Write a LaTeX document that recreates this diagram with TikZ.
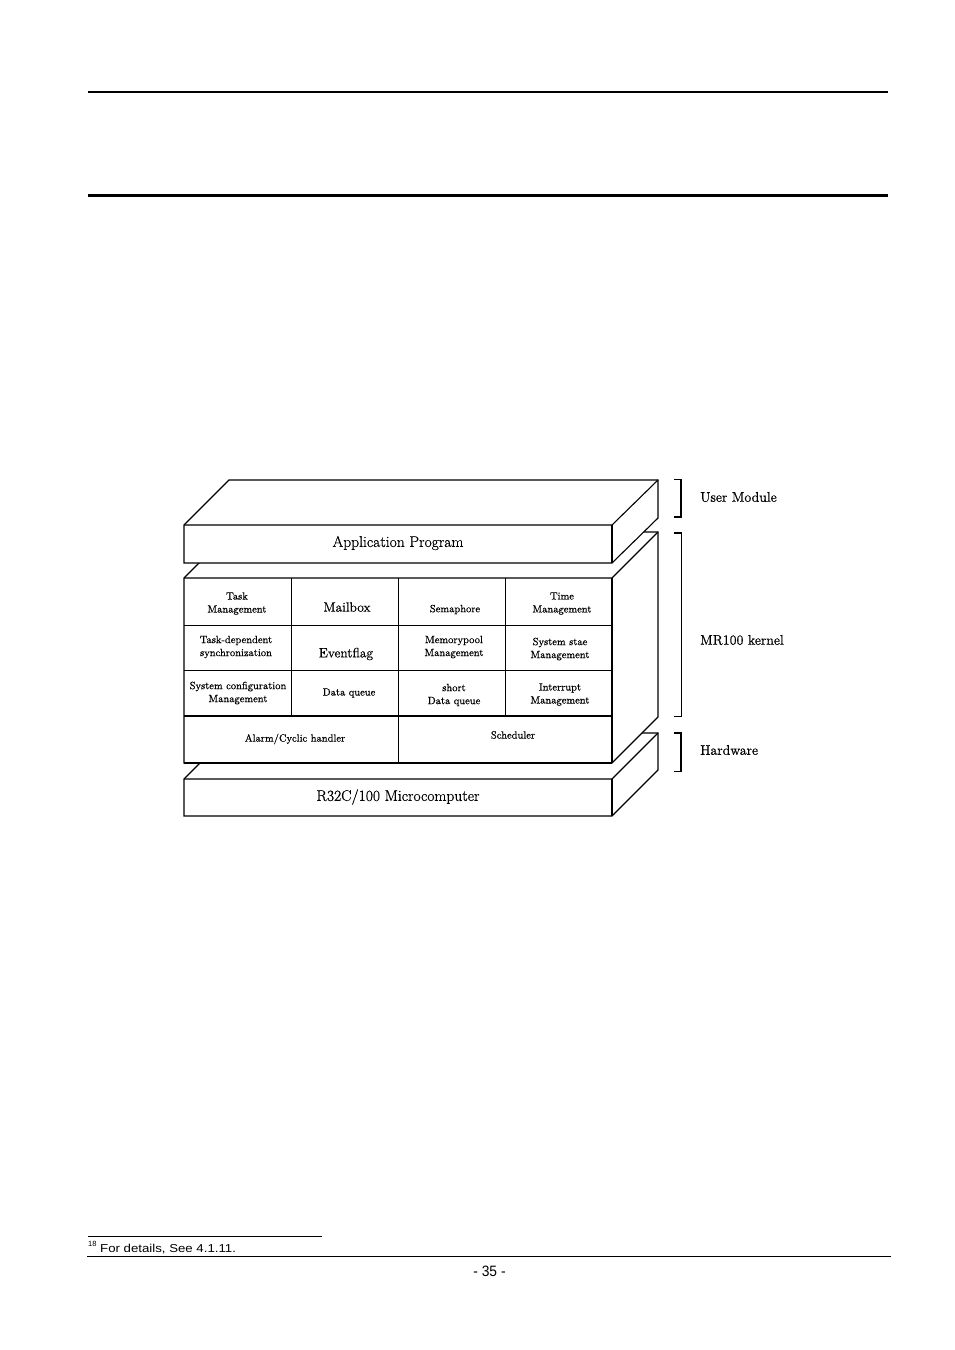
\documentclass[tikz,border=0pt]{standalone}
\usepackage{fontspec}
\setmainfont{Latin Modern Roman}[FakeBold=0.6]
\newfontfamily\arialish{Liberation Sans}
\begin{document}
\begin{tikzpicture}[x=1pt,y=-1pt,
  face/.style={draw=black, fill=white, line width=1.1pt, line join=miter},
  grid/.style={draw=black, line width=0.9pt},
  cell/.style={inner sep=0pt, align=center, font=\fontsize{10.5}{13}\selectfont},
  bigcell/.style={inner sep=0pt, font=\fontsize{13.5}{16}\selectfont},
  title/.style={inner sep=0pt, font=\fontsize{15.5}{18}\selectfont},
  side/.style={inner sep=0pt, anchor=west, font=\fontsize{14}{17}\selectfont},
  brk/.style={draw=black, line width=1.1pt},
  rule/.style={draw=black}]
\useasboundingbox[fill=white] (0,0) rectangle (954,1350);

% page rules
\draw[rule, line width=2pt] (88,92) -- (888,92);
\draw[rule, line width=3pt] (88,195) -- (888,195);
\draw[rule, line width=0.8pt] (88,1236.3) -- (321.5,1236.3);
\draw[rule, line width=1.3pt] (87,1256.3) -- (890.5,1256.3);

% Hardware block
\draw[face] (184,779) -- (230,733) -- (658,733) -- (658,770) -- (612,816) -- (184,816) -- cycle;
\draw[face, fill=none] (184,779) -- (612,779) -- (658,733);
\draw[face, fill=none] (612,779) -- (612,816);
\node[title] (hw) at (398,797) {R32C/100 Microcomputer};

% Kernel block
\draw[face] (184,578) -- (230,532) -- (658,532) -- (658,717) -- (612,763) -- (184,763) -- cycle;
\draw[face, fill=none] (184,578) -- (612,578) -- (658,532);
\draw[face, fill=none] (612,578) -- (612,763);
% grid
\draw[grid] (291,578) -- (291,716);
\draw[grid] (398,578) -- (398,763);
\draw[grid] (505,578) -- (505,716);
\draw[grid] (184,625) -- (612,625);
\draw[grid] (184,670) -- (612,670);
\draw[draw=black, line width=1.8pt] (184,716) -- (612,716);
\draw[draw=black, line width=1.6pt] (184,763) -- (612,763);

\node[cell] (c11) at (237,603.5) {Task\\Management};
\node[bigcell] (c12) at (347,607) {Mailbox};
\node[cell] (c13) at (455,609.5) {Semaphore};
\node[cell] (c14) at (562,603.5) {Time\\Management};
\node[cell] (c21) at (236,647) {Task-dependent\\synchronization};
\node[bigcell] (c22) at (346,654) {Eventflag};
\node[cell] (c23) at (454,647) {Memorypool\\Management};
\node[cell] (c24) at (560,649) {System stae\\Management};
\node[cell] (c31) at (238,693) {System configuration\\Management};
\node[cell] (c32) at (349,693) {Data queue};
\node[cell] (c33) at (454,695) {short\\Data queue};
\node[cell] (c34) at (560,694.5) {Interrupt\\Management};
\node[cell] (c41) at (295,739) {Alarm/Cyclic handler};
\node[cell] (c42) at (513,735) {Scheduler};

% Application block
\draw[face] (184,525) -- (229,480) -- (658,480) -- (658,518) -- (612,563) -- (184,563) -- cycle;
\draw[face, fill=none] (184,525) -- (612,525) -- (658,480);
\draw[face, fill=none] (612,525) -- (612,563);
\node[title] (app) at (398,543) {Application Program};

% brackets
\draw[brk] (674,479.5) -- (681,479.5) -- (681,517) -- (674,517);
\draw[brk, line width=1.8pt] (674,533) -- (681.5,533) -- (681.5,716.5) -- (674,716.5);
\draw[brk] (674,733) -- (681,733) -- (681,771.5) -- (674,771.5);
\node[side] (um) at (700,497) {User Module};
\node[side] (mk) at (700,640) {MR100 kernel};
\node[side] (hwl) at (700,750) {Hardware};

% footnote and page number
\node[inner sep=0pt, anchor=base west, font=\arialish\fontsize{7.5}{9}\selectfont] (fnm) at (88,1246.5) {18};
\node[inner sep=0pt, anchor=base west, font=\arialish\fontsize{11.5}{14}\selectfont] (fnt) at (100,1252) {\scalebox{1.15}[1]{For details, See 4.1.11.}};
\node[inner sep=0pt, font=\arialish\fontsize{15}{18}\selectfont] (pg) at (489.5,1271) {\scalebox{0.92}[1]{- 35 -}};
\end{tikzpicture}
\end{document}
